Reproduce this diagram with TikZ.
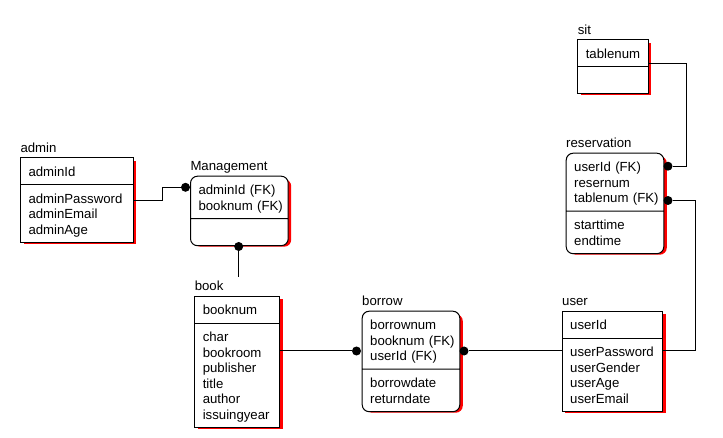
\documentclass[tikz,border=0pt]{standalone}
\usepackage{fontspec}
\setmainfont{Liberation Sans}
\usetikzlibrary{positioning,shapes.multipart}
\newcommand{\rs}{\rule[-2.9pt]{0pt}{15.5pt}}
\newcommand{\erfont}{\fontsize{13.2}{15.5}\selectfont}

\begin{document}
\begin{tikzpicture}[
    x=1pt, y=-1pt,
    line width=1pt,
    entity/.style={rectangle split, rectangle split parts=2, draw, fill=white, anchor=north west, align=left,
        inner xsep=8pt, inner ysep=5.25pt, font=\erfont},
    weak/.style={entity, rounded corners=7pt},
    title/.style={anchor=base west, inner xsep=0pt, inner ysep=4pt, font=\erfont},
    dot/.style={circle, fill, inner sep=0pt, minimum size=9pt},
    shadowfill/.style={fill=red, draw=none}
]
\useasboundingbox (0,0) rectangle (723,438);

\foreach \xa/\ya/\xb/\yb in {23.5/161/136.2/244, 197.8/299.2/282.5/428.7, 565.2/314.2/665.8/412.7, 580.8/42.8/651.2/94.8}
    \fill[shadowfill] (\xa,\ya) rectangle (\xb,\yb);
\foreach \xa/\ya/\xb/\yb in {193.5/179.2/291.2/246.7, 365.2/314.2/462.8/412.7, 569.2/156.2/666.8/254.7}
    \fill[shadowfill, rounded corners=7pt] (\xa,\ya) rectangle (\xb,\yb);

\node[entity, text width=96.7pt] (admin) at (20,157.5) {\rs adminId \nodepart{two}\rs adminPassword\\ \rs adminEmail\\ \rs adminAge};
\node[weak, text width=81.7pt] (mgmt) at (190,175.7) {\rs adminId~(FK)\\ \rs booknum~(FK) \nodepart{two}\rs};
\node[entity, text width=68.7pt] (book) at (194.3,295.7) {\rs booknum \nodepart{two}\rs char\\ \rs bookroom\\ \rs publisher\\ \rs title\\ \rs author\\ \rs issuingyear};
\node[weak, text width=81.6pt] (borrow) at (361.7,310.7) {\rs borrownum\\ \rs booknum~(FK)\\ \rs userId~(FK) \nodepart{two}\rs borrowdate\\ \rs returndate};
\node[entity, text width=84.6pt] (user) at (561.7,310.7) {\rs userId \nodepart{two}\rs userPassword\\ \rs userGender\\ \rs userAge\\ \rs userEmail};
\node[entity, text width=54.4pt] (sit) at (577.3,39.3) {\rs tablenum \nodepart{two}\rs};
\node[weak, text width=81.6pt] (reserv) at (565.7,152.7) {\rs userId~(FK)\\ \rs resernum\\ \rs tablenum~(FK) \nodepart{two}\rs starttime\\ \rs endtime};

\node (adminlbl) [above=5pt of admin.north west, title] {admin};
\node (mgmtlbl) [above=5pt of mgmt.north west, title] {Management};
\node (booklbl) [above=5pt of book.north west, title] {book};
\node (borrowlbl) [above=5pt of borrow.north west, title] {borrow};
\node (userlbl) [above=5pt of user.north west, title] {user};
\node (sitlbl) [above=5pt of sit.north west, title] {sit};
\node (reservlbl) [above=5pt of reserv.north west, title] {reservation};

\node[dot] (d1) at (185.5,187.3) {};
\node[dot] (d2) at (238.7,246.5) {};
\node[dot] (d3) at (356.5,351) {};
\node[dot] (d4) at (464,351) {};
\node[dot] (d5) at (668,200.5) {};
\node[dot] (d6) at (668,166.2) {};

\draw (admin.east) -- ++(29,0) |- (d1);
\draw (d2) -- (d2 |- booklbl.north);
\draw (book.east |- d3) -- (d3);
\draw (d4) -- (d4 -| user.west);
\draw (user.east |- d4) -- ++(32,0) |- (d5);
\draw ([yshift=3pt]sit.text split east) -- ++(38,0) |- (d6);

\end{tikzpicture}
\end{document}
